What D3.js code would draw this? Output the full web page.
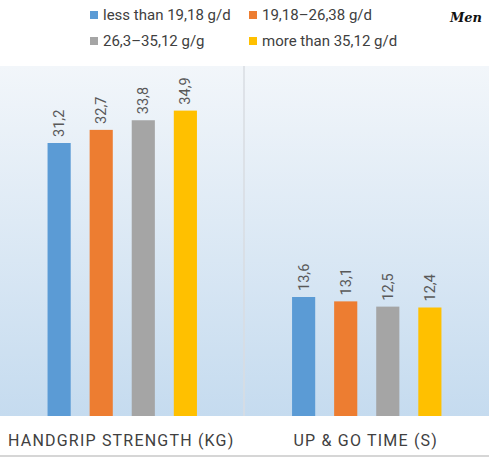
<!DOCTYPE html>
<meta charset="utf-8">
<title>Men - handgrip and up & go</title>
<style>
  body { margin: 0; background: white; }
  svg { font-family: Roboto, 'DejaVu Sans', sans-serif; }
</style>
<body>
<div id="chart"></div>
<script src="https://d3js.org/d3.v7.min.js"></script>
<script>
// data
var categories = ["HANDGRIP STRENGTH (KG)", "UP & GO TIME (S)"];
var groups = ["less than 19,18 g/d", "19,18\u201326,38 g/d", "26,3\u201335,12 g/g", "more than 35,12 g/d"];
var colors = ["#5b9bd5", "#ed7d31", "#a5a5a5", "#ffc000"];
var handgrip = [31.2, 32.7, 33.8, 34.9];
var upAndGo = [13.6, 13.1, 12.5, 12.4];
var seriesValues = [handgrip, upAndGo];

var width = 490, height = 457;
var plot = {left: 0, right: 489, top: 66, bottom: 416};

var svg = d3.select("#chart").append("svg")
  .attr("width", width)
  .attr("height", height);

// background gradient of the plot area
var grad = svg.append("defs").append("linearGradient")
  .attr("id", "bg").attr("x1", 0).attr("y1", 0).attr("x2", 0).attr("y2", 1);
grad.append("stop").attr("offset", "0%").attr("stop-color", "#f2f6fa");
grad.append("stop").attr("offset", "100%").attr("stop-color", "#c5dbef");

svg.append("rect")
  .attr("x", plot.left).attr("y", plot.top)
  .attr("width", plot.right - plot.left)
  .attr("height", plot.bottom - plot.top)
  .attr("fill", "url(#bg)");

var x = d3.scaleBand()
  .domain(categories)
  .range([plot.left, plot.right]);

var xInner = d3.scaleBand()
  .domain(groups)
  .range([0, x.bandwidth()])
  .paddingInner(0.45)
  .paddingOuter(1.13);

var y = d3.scaleLinear()
  .domain([0, 40])
  .range([plot.bottom, plot.top]);

var color = d3.scaleOrdinal().domain(groups).range(colors);

// divider between the two categories
svg.append("line")
  .attr("x1", x(categories[1]) - 0.5).attr("x2", x(categories[1]) - 0.5)
  .attr("y1", plot.top).attr("y2", plot.bottom)
  .attr("stroke", "#d9dde2").attr("stroke-width", 1.5);

var rows = [];
categories.forEach(function(c, ci) {
  groups.forEach(function(g, gi) {
    rows.push({cat: c, group: g, value: seriesValues[ci][gi]});
  });
});

svg.selectAll("rect.bar")
  .data(rows)
  .enter().append("rect")
    .attr("class", "bar")
    .attr("x", function(d) { return x(d.cat) + xInner(d.group); })
    .attr("y", function(d) { return y(d.value); })
    .attr("width", xInner.bandwidth())
    .attr("height", function(d) { return y(0) - y(d.value); })
    .attr("fill", function(d) { return color(d.group); });

// rotated value labels
svg.selectAll("text.val")
  .data(rows)
  .enter().append("text")
    .attr("class", "val")
    .attr("transform", function(d) {
      var cx = x(d.cat) + xInner(d.group) + xInner.bandwidth() / 2 + 5;
      return "translate(" + cx + "," + (y(d.value) - 6) + ") rotate(-90)";
    })
    .attr("fill", "#595959")
    .style("font-size", "14.5px")
    .text(function(d) { return String(d.value).replace(".", ","); });

// category labels
svg.selectAll("text.cat")
  .data(categories)
  .enter().append("text")
    .attr("class", "cat")
    .attr("x", function(d) { return x(d) + x.bandwidth() / 2 - 1; })
    .attr("y", 446)
    .attr("text-anchor", "middle")
    .attr("fill", "#404040")
    .style("font-size", "16px")
    .style("letter-spacing", "1.2px")
    .text(function(d) { return d; });

// bottom rule
svg.append("line")
  .attr("x1", 0).attr("x2", 489).attr("y1", 456).attr("y2", 456)
  .attr("stroke", "#c8c8c8").attr("stroke-width", 1.5);

// legend
var legendPos = [[90, 19], [249, 19], [90, 45], [249, 45]];
var legend = svg.selectAll("g.leg")
  .data(groups)
  .enter().append("g")
    .attr("class", "leg")
    .attr("transform", function(d, i) { return "translate(" + legendPos[i][0] + "," + legendPos[i][1] + ")"; });
legend.append("rect")
  .attr("x", 0).attr("y", -8).attr("width", 8).attr("height", 8)
  .attr("fill", function(d) { return color(d); });
legend.append("text")
  .attr("x", 13).attr("y", 1)
  .attr("fill", "#404040")
  .style("font-size", "15px")
  .text(function(d) { return d; });

svg.append("text")
  .attr("x", 466).attr("y", 22)
  .attr("text-anchor", "middle")
  .style("font-family", "'DejaVu Serif', serif")
  .style("font-style", "italic")
  .style("font-weight", "bold")
  .style("font-size", "13px")
  .attr("fill", "#111")
  .text("Men");
</script>
</body>
